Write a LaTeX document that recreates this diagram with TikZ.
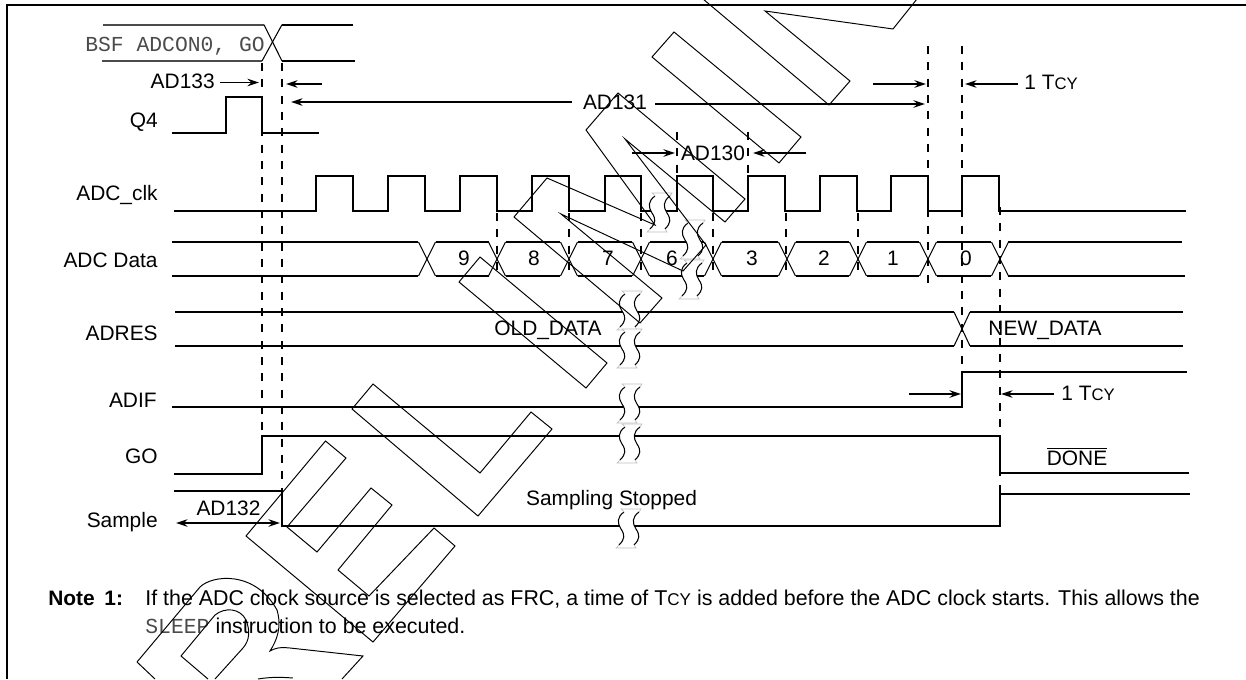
\documentclass[tikz,border=0pt]{standalone}
\usepackage{fontspec}
\setmainfont{Liberation Sans}
\setmonofont{Liberation Mono}
\definecolor{cmdgray}{RGB}{75,75,75}
\usetikzlibrary{arrows.meta,positioning}

\begin{document}
\begin{tikzpicture}[
  x=0.02cm,y=-0.02cm,
  sig/.style={line width=1pt},
  cross/.style={line width=0.6pt},
  guide/.style={line width=1pt,dash pattern=on 4.5pt off 4.8pt},
  timearrow/.style={line width=0.9pt,-{Stealth[length=6.5pt,width=4.2pt]}},
  bothways/.style={line width=0.9pt,{Stealth[length=6.5pt,width=4.2pt]}-{Stealth[length=6.5pt,width=4.2pt]}},
  lbl/.style={font=\fontsize{11.9pt}{14pt}\selectfont,inner sep=0pt,anchor=base east},
  tlbl/.style={font=\fontsize{11.9pt}{14pt}\selectfont,inner sep=0pt,anchor=base},
  wm/.style={line width=0.55pt},
  sigbreak/.pic={
    \fill[white] (-3,-3) -- (17,-3) -- (15,0)
      .. controls (8,5) and (8,11) .. (12,17) .. controls (16,23) and (16,27) .. (10,33)
      -- (12,36) -- (-8,36) -- (-5,33)
      .. controls (1,27) and (1,23) .. (-3,17) .. controls (-7,11) and (-7,5) .. (0,0) -- cycle;
    \draw[line width=0.6pt] (0,0) .. controls (-7,5) and (-7,11) .. (-3,17) .. controls (1,23) and (1,27) .. (-5,33);
    \draw[line width=0.6pt] (15,0) .. controls (8,5) and (8,11) .. (12,17) .. controls (16,23) and (16,27) .. (10,33);
    \draw[black!25,line width=0.4pt] (0,0) -- (-3,-3) -- (17,-3) -- (15,0);
    \draw[black!25,line width=0.4pt] (-5,33) -- (-8,36) -- (12,36) -- (10,33);
  }
]
  \clip (0,0) rectangle (1246,679);
  % Frame
  \draw[line width=1.3pt] (6.7,679) -- (6.7,5) -- (1246,5);

  % Row names
  \node[lbl] (lq4) at (158,127) {Q4};
  \node[lbl] (lclk) at (158,200) {ADC\_clk};
  \node[lbl] (ldata) at (158,267.5) {ADC Data};
  \node[lbl] (lres) at (158,340) {ADRES};
  \node[lbl] (lif) at (157,407) {ADIF};
  \node[lbl] (lgo) at (158,463) {GO};
  \node[lbl] (lsam) at (158,527) {Sample};

  % Instruction
  \draw[cmdgray,line width=0.95pt] (103,24.7) -- (264,24.7);
  \draw[cmdgray,line width=0.95pt] (102,61) -- (262,61);
  \draw[cross] (264,24.7) -- (282,61);
  \draw[cross] (262,61) -- (282,24.7);
  \draw[sig] (282,24.7) -- (353,24.7);
  \draw[sig] (282,61) -- (355,61);
  \node[tlbl,anchor=base west,text=cmdgray,font=\fontsize{12.15pt}{14pt}\ttfamily] (cmd) at (85,51.7) {BSF ADCON0, GO};

  % Guides
  \draw[guide] (262,63) -- (262,436);
  \draw[guide] (282,63) -- (282,491);
  \draw[guide] (928,46) -- (928,283);
  \draw[guide] (962,46) -- (962,372);
  \draw[guide] (1000,207) -- (1000,494);
  \draw[guide] (677,132) -- (677,176);
  \draw[guide] (748,132) -- (748,176);
  \foreach \gx in {497,569,641,713,786,858}
    \draw[guide] (\gx,213) -- (\gx,278);

  % Q4
  \draw[sig] (172,133) -- (226,133) -- (226,97) -- (262,97) -- (262,133) -- (319,133);

  % ADC_clk
  \draw[sig] (174,211) -- (316,211) -- (316,176) -- (353,176) -- (353,211) -- (388,211) -- (388,176)
    -- (425,176) -- (425,211) -- (460,211) -- (460,176) -- (497,176) -- (497,211) -- (532,211)
    -- (532,176) -- (569,176) -- (569,211) -- (605,211) -- (605,176) -- (641,176) -- (641,211)
    -- (677,211) -- (677,176) -- (713,176) -- (713,211) -- (748,211) -- (748,176) -- (785,176)
    -- (785,211) -- (820,211) -- (820,176) -- (857,176) -- (857,211) -- (891,211) -- (891,176)
    -- (928,176) -- (928,211) -- (962,211) -- (962,176) -- (999,176) -- (999,211) -- (1186,211);

  % ADC Data
  \draw[sig] (172,242) -- (418,242);
  \draw[sig] (172,276) -- (418,276);
  \foreach \xa/\xb in {436/489,506/560,578/632,650/704,722/778,796/849,867/919,937/991}{
    \draw[sig] (\xa,242) -- (\xb,242);
    \draw[sig] (\xa,276) -- (\xb,276);
  }
  \draw[sig] (1008,242) -- (1182,242);
  \draw[sig] (1008,276) -- (1185,276);
  \foreach \cx in {427,497,569,641,713,787,858,928,1000}{
    \draw[cross] (\cx-8.5,242) -- (\cx+8.5,276);
    \draw[cross] (\cx-8.5,276) -- (\cx+8.5,242);
  }
  \node[tlbl] (d9) at (464,265) {9};
  \node[tlbl] (d8) at (534,265) {8};
  \node[tlbl] (d7) at (608,265) {7};
  \node[tlbl] (d6) at (672,265) {6};
  \node[tlbl] (d3) at (752,265) {3};
  \node[tlbl] (d2) at (824,265) {2};
  \node[tlbl] (d1) at (893,265) {1};
  \node[tlbl] (d0) at (966,265) {0};

  % ADRES
  \draw[sig] (175,312) -- (954,312);
  \draw[sig] (175,346) -- (954,346);
  \draw[sig] (970,312) -- (1183,312);
  \draw[sig] (970,346) -- (1183,346);
  \draw[cross] (954,312) -- (970,346);
  \draw[cross] (954,346) -- (970,312);
  \node[tlbl] (old) at (548,335.5) {OLD\_DATA};
  \node[tlbl] (new) at (1045,335) {NEW\_DATA};

  % ADIF
  \draw[sig] (172,407) -- (962,407) -- (962,372) -- (1187,372);

  % GO
  \draw[sig] (174,474) -- (262,474) -- (262,436) -- (1000,436) -- (1000,473) -- (1189,473);
  \node[tlbl] (done) at (1077,465) {$\overline{\hbox{DONE}}$};

  % Sample
  \draw[sig] (174,491) -- (282,491) -- (282,526) -- (1000,526) -- (1000,494) -- (1190,494);
  \node[tlbl] (samp) at (611.5,505) {Sampling Stopped};

  % Breaks
  \foreach \bx/\by in {655/196,688/223,687/263,625/294,625/332,625/387,625/427,624/512}
    \pic at (\bx,\by) {sigbreak};

  % Time marks
  \node[lbl] (t133) at (215,89) {AD133};
  \coordinate (a133) at (259,82.5);
  \coordinate (b133a) at (322,84);
  \coordinate (b133) at (286,84);
  \draw[timearrow] (220,82.5) -- (a133);
  \draw[timearrow] (b133a) -- (b133);

  \node[tlbl] (t131) at (615,110) {AD131};
  \coordinate (a131a) at (572,102);
  \coordinate (a131) at (291,102);
  \coordinate (b131a) at (655,104);
  \coordinate (b131) at (925,104);
  \draw[timearrow] (a131a) -- (a131);
  \draw[timearrow] (b131a) -- (b131);

  \node[tlbl] (t130) at (713,160) {AD130};
  \coordinate (a130a) at (632,153);
  \coordinate (a130) at (675,153);
  \coordinate (b130a) at (806,153);
  \coordinate (b130) at (753,153);
  \draw[timearrow] (a130a) -- (a130);
  \draw[timearrow] (b130a) -- (b130);

  \node[tlbl,anchor=base west] (tcya) at (1024,90) {1 T{\fontsize{9.5pt}{11pt}\selectfont CY}};
  \coordinate (a1a) at (873,84);
  \coordinate (a1) at (926,84);
  \coordinate (b1a) at (1018,84);
  \coordinate (b1) at (965,84);
  \draw[timearrow] (a1a) -- (a1);
  \draw[timearrow] (b1a) -- (b1);

  \node[tlbl,anchor=base west] (tcyb) at (1061,400) {1 T{\fontsize{9.5pt}{11pt}\selectfont CY}};
  \coordinate (a2a) at (909,394);
  \coordinate (a2) at (961,394);
  \coordinate (b2a) at (1054,394);
  \coordinate (b2) at (1001,394);
  \draw[timearrow] (a2a) -- (a2);
  \draw[timearrow] (b2a) -- (b2);

  \node[tlbl] (t132) at (228.5,515) {AD132};
  \coordinate (a132a) at (176,523);
  \coordinate (a132) at (280,523);
  \draw[bothways] (a132a) -- (a132);

  % Note
  \node[tlbl,anchor=base west] (nlbl) at (48,605.5) {\textbf{Note\hspace{5.5pt}1:}};
  \node[tlbl,anchor=base west,font=\fontsize{12.18pt}{14pt}\selectfont] (nl1) at (145,605.5) {If the ADC clock source is selected as FRC, a time of T{\fontsize{9.7pt}{11pt}\selectfont CY} is added before the ADC clock starts. This allows the};
  \node[tlbl,anchor=base west,font=\fontsize{12.18pt}{14pt}\selectfont] (nl2) at (145,633) {{\color{cmdgray}\ttfamily SLEEP} instruction to be executed.};

  % Watermark
  \draw[wm] (137,662) -- (200,587) .. controls (212,575) and (255,570) .. (277,610)
    .. controls (282,627) and (277,640) .. (270,651) .. controls (275,648) and (280,647) .. (290,648)
    -- (363,656) -- (342,679);
  \draw[wm] (137,662) -- (155,679);
  \draw[wm] (208,679) -- (181,656) -- (215,615) .. controls (225,607) and (240,608) .. (246,620)
    .. controls (250,630) and (250,640) .. (243,648) -- (215,679);
  \draw[wm] (258,679) .. controls (270,677) and (280,677) .. (293,678);
  \draw[wm] (246,536) -- (325.5,441) -- (346,458) -- (287,527) -- (317,552) -- (371,488) -- (392,505)
    -- (338,570) -- (369,596) -- (434,528) -- (455,546) -- (373,642) -- cycle;
  \draw[wm] (352,409) -- (478,516) -- (552,429) -- (531,412) -- (480,473) -- (373,384) -- cycle;
  \draw[wm] (480,257) -- (459,282) -- (586,388) -- (607,363) -- cycle;
  \draw[wm] (547,178) -- (514,217) -- (640,323) -- (662,298) -- (561,214) -- (683,271) -- (706,245)
    -- (625,139) -- (725,222) -- (745,199) -- (618,93) -- (586,130) -- (655,225) -- cycle;
  \draw[wm] (674,32) -- (652,57) -- (779,163) -- (801,137) -- cycle;
  \draw[wm] (703,-1) -- (829,105) -- (850,81) -- (765,11) -- (893,29) -- (917,-1);
\end{tikzpicture}
\end{document}
